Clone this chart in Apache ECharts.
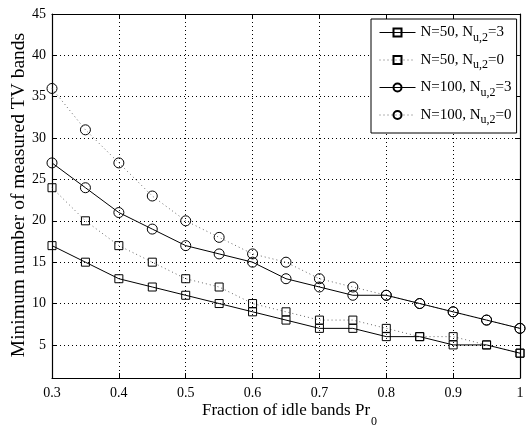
<!DOCTYPE html>
<html><head><meta charset="utf-8">
<script src="https://cdn.jsdelivr.net/npm/echarts@6/dist/echarts.min.js"></script>
<style>html,body{margin:0;padding:0;background:#fff}#c{width:529px;height:428px}</style>
</head><body><div id="c"></div>
<script>
const xs = [0.3,0.35,0.4,0.45,0.5,0.55,0.6,0.65,0.7,0.75,0.8,0.85,0.9,0.95,1];
const n50u3  = [17,15,13,12,11,10,9,8,7,7,6,6,5,5,4];
const n50u0  = [24,20,17,15,13,12,10,9,8,8,7,6,6,5,4];
const n100u3 = [27,24,21,19,17,16,15,13,12,11,11,10,9,8,7];
const n100u0 = [36,31,27,23,20,18,16,15,13,12,11,10,9,8,7];
const names = ['N=50, N_u,2=3','N=50, N_u,2=0','N=100, N_u,2=3','N=100, N_u,2=0'];
const xTicks = [0.3,0.4,0.5,0.6,0.7,0.8,0.9,1];
const yTicks = [5,10,15,20,25,30,35,40,45];
const xTitle = 'Fraction of idle bands Pr';
const xTitleSub = '0';
const yTitle = 'Minimum number of measured TV bands';

const FONT = 'Liberation Serif';
const chart = echarts.init(document.getElementById('c'));
function mk(name, vals, symbol, size, dotted){
  return {
    name, type:'line', data: xs.map((x,i)=>[x, vals[i]]),
    symbol, symbolSize: size, showAllSymbol:true,
    itemStyle:{color:'rgba(0,0,0,0)', borderColor:'#000', borderWidth:1},
    lineStyle:{color: dotted ? '#666':'#000', width:1, type: dotted ? [1,3] : 'solid'},
    emphasis:{disabled:true}, z: dotted?2:3
  };
}
const tickAxisX = (pos, show) => ({
  type:'value', min:0.3, max:1, interval:0.1, position:pos,
  axisLine:{show:true, lineStyle:{color:'#000', width:1.2}},
  axisTick:{show:true, inside:true, length:5, lineStyle:{color:'#000'}, customValues: xTicks},
  splitLine:{show:show, lineStyle:{color:'#000', type:[1,3], width:1}},
  axisLabel:{show:show, color:'#000', fontFamily:FONT, fontSize:14, margin:8, customValues: xTicks,
    formatter: v => (Math.abs(v-1)<1e-9 ? '1' : (+v).toFixed(1))}
});
const tickAxisY = (pos, show) => ({
  type:'value', min:1, max:45, interval:5, position:pos,
  axisLine:{show:true, lineStyle:{color:'#000', width:1.2}},
  axisTick:{show:true, inside:true, length:5, lineStyle:{color:'#000'}, customValues: yTicks},
  splitLine:{show:false},
  axisLabel:{show:show, color:'#000', fontFamily:FONT, fontSize:14, margin:6, customValues: yTicks}
});
const cv = document.createElement('canvas').getContext('2d');
cv.font = '17px "Liberation Serif"';
const xTitleW = cv.measureText(xTitle).width;
const xTitleLeft = 202;

chart.setOption({
  animation:false,
  grid:{left:52, top:14, right:9, bottom:50, containLabel:false},
  xAxis:[tickAxisX('bottom', true), tickAxisX('top', false)],
  yAxis:[tickAxisY('left', true), tickAxisY('right', false)],
  legend:{
    orient:'vertical', left:371, top:19,
    backgroundColor:'#fff', borderColor:'#000', borderWidth:1,
    padding:[6,5,7,8], itemGap:9, itemWidth:36, itemHeight:10,
    lineStyle:{width:1},
    data: names,
    formatter: n => { const p = n.split('_'); const q = p[1].split('='); return '{a|'+p[0]+'}{s|'+q[0]+'}{a|='+q[1]+'}'; },
    textStyle:{color:'#000', fontFamily:FONT, fontSize:15,
      rich:{a:{fontFamily:FONT, fontSize:15, color:'#000', height:17},
            s:{fontFamily:FONT, fontSize:12, color:'#000', padding:[10,0,0,0]}}}
  },
  graphic:[
    {type:'text', x:xTitleLeft, y:411,
      style:{text:xTitle, font:'17px "Liberation Serif"', fill:'#000', textVerticalAlign:'middle'}},
    {type:'text', x:xTitleLeft + xTitleW + 1, y:422,
      style:{text:xTitleSub, font:'12px "Liberation Serif"', fill:'#000', textVerticalAlign:'middle'}},
    {type:'text', x:19, y:195, rotation:Math.PI/2,
      style:{text:yTitle, font:'19.5px "Liberation Serif"', fill:'#000', textAlign:'center', textVerticalAlign:'middle'}}
  ],
  series:[
    mk(names[0], n50u3, 'rect', 8, false),
    mk(names[1], n50u0, 'rect', 8, true),
    mk(names[2], n100u3, 'circle', 10, false),
    mk(names[3], n100u0, 'circle', 10, true),
    {type:'line', data:[], silent:true, markLine:{silent:true, symbol:'none', label:{show:false},
      lineStyle:{color:'#000', type:[1,3], width:1}, z:1,
      data: yTicks.filter(v=>v<45).map(v=>({yAxis:v}))}}
  ]
});
</script></body></html>
